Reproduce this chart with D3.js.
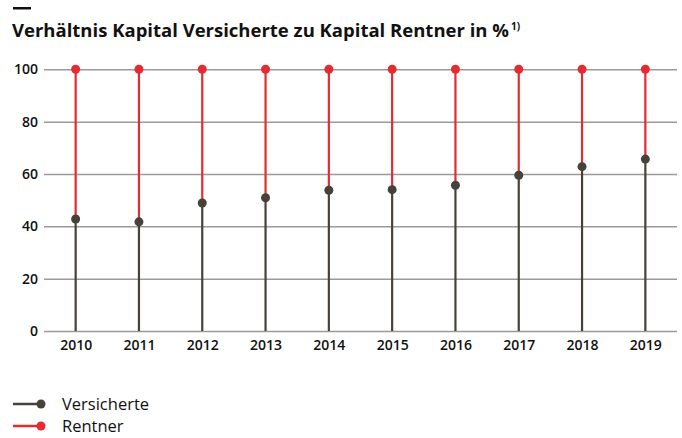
<!DOCTYPE html>
<html>
<head>
<meta charset="utf-8">
<script src="https://cdn.jsdelivr.net/npm/d3@7"></script>
<style>
  body { margin: 0; background: #fff; }
  svg { display: block; font-family: "Open Sans", sans-serif; }
</style>
</head>
<body>
<svg id="svg" width="682" height="438"></svg>
<script>
const years = ['2010', '2011', '2012', '2013', '2014', '2015', '2016', '2017', '2018', '2019'];
const versicherte = [42.8, 41.7, 48.9, 50.9, 53.8, 54.0, 55.7, 59.5, 62.8, 65.7];
const rentner = [100, 100, 100, 100, 100, 100, 100, 100, 100, 100];
const yTicks = [0, 20, 40, 60, 80, 100];

const dark = '#46423a';
const red = '#e52a30';
const grid = '#9b9a96';

const svg = d3.select('#svg');

const x = d3.scalePoint().domain(years).range([44, 677]).padding(0.5);
const y = d3.scaleLinear().domain([0, 100]).range([331, 69.3]);

// title
svg.append('rect').attr('x', 13).attr('y', 7).attr('width', 18).attr('height', 2.5).attr('fill', '#111');
const title = svg.append('text').attr('x', 12).attr('y', 37)
    .attr('font-size', 18.5).attr('font-weight', 700).attr('fill', '#111');
title.append('tspan').text('Verhältnis Kapital Versicherte zu Kapital Rentner in %');
title.append('tspan').attr('font-size', 10).attr('dy', -7).attr('dx', 2).text('1)');

// grid + y labels
const yAxis = d3.axisLeft(y).tickValues(yTicks).tickSize(-(677 - 44)).tickPadding(6);
const gy = svg.append('g').attr('transform', 'translate(44,0)').call(yAxis);
gy.select('.domain').remove();
gy.selectAll('line').attr('stroke', grid).attr('stroke-width', 1.5);
gy.selectAll('text').attr('font-size', 14).attr('font-weight', 600).attr('fill', '#111')
    .attr('font-family', '"Open Sans", sans-serif');

// x labels
const xAxis = d3.axisBottom(x).tickSize(0).tickPadding(9);
const gx = svg.append('g').attr('transform', 'translate(0,331)').call(xAxis);
gx.select('.domain').remove();
gx.selectAll('text').attr('font-size', 14).attr('font-weight', 600).attr('fill', '#111')
    .attr('font-family', '"Open Sans", sans-serif');

const rows = years.map((d, i) => ({ year: d, v: versicherte[i], r: rentner[i] }));

// red stems
svg.append('g').selectAll('line').data(rows).join('line')
    .attr('x1', d => x(d.year)).attr('x2', d => x(d.year))
    .attr('y1', d => y(d.r)).attr('y2', d => y(d.v))
    .attr('stroke', red).attr('stroke-width', 2.2);

// dark stems
svg.append('g').selectAll('line').data(rows).join('line')
    .attr('x1', d => x(d.year)).attr('x2', d => x(d.year))
    .attr('y1', y(0)).attr('y2', d => y(d.v))
    .attr('stroke', dark).attr('stroke-width', 2.2);

svg.append('g').selectAll('circle').data(rows).join('circle')
    .attr('cx', d => x(d.year)).attr('cy', d => y(d.r)).attr('r', 4.5).attr('fill', red);
svg.append('g').selectAll('circle').data(rows).join('circle')
    .attr('cx', d => x(d.year)).attr('cy', d => y(d.v)).attr('r', 4.5).attr('fill', dark);

// legend
const legend = [
    { name: 'Versicherte', color: dark },
    { name: 'Rentner', color: red }
];
const lg = svg.append('g').selectAll('g').data(legend).join('g')
    .attr('transform', (d, i) => `translate(0,${404 + i * 22})`);
lg.append('line').attr('x1', 13).attr('x2', 40).attr('stroke', d => d.color).attr('stroke-width', 2.5);
lg.append('circle').attr('cx', 41).attr('r', 4.5).attr('fill', d => d.color);
lg.append('text').attr('x', 62).attr('dy', '0.35em').attr('font-size', 16.5).attr('fill', '#111')
    .text(d => d.name);
</script>
</body>
</html>
